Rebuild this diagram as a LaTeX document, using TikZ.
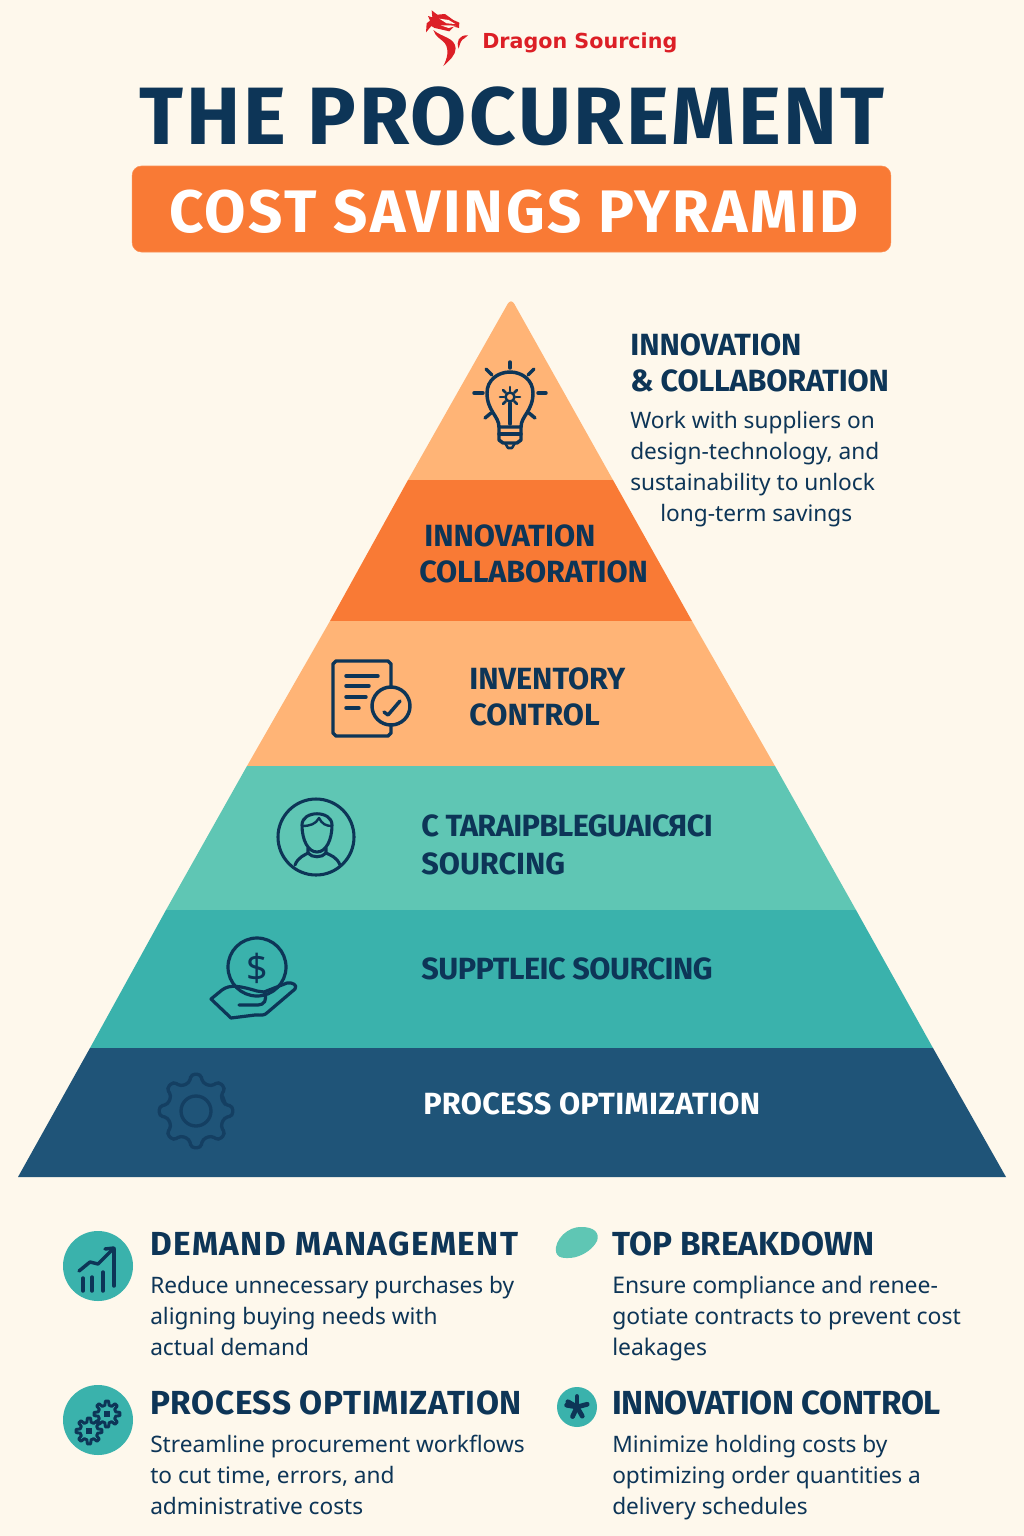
\documentclass[tikz,border=0pt]{standalone}
\usepackage{fontspec}
\setmainfont{Noto Sans}
\newfontfamily\headfont{Fira Sans}
\usetikzlibrary{positioning}

\definecolor{pagebg}{HTML}{FEF8EC}
\definecolor{navy}{HTML}{0D3557}
\definecolor{peach}{HTML}{FFB476}
\definecolor{burnt}{HTML}{F97A35}
\definecolor{mint}{HTML}{5FC6B4}
\definecolor{teal}{HTML}{3AB2AC}
\definecolor{deepblue}{HTML}{1F5478}
\definecolor{gearblue}{HTML}{143F62}
\definecolor{brandred}{HTML}{DC1F26}

\newcommand{\track}[1]{\addfontfeature{LetterSpace=#1}}

\tikzset{
  label/.style={inner sep=0pt,anchor=base west,text=navy,font=\headfont\bfseries\fontsize{23}{27}\selectfont,align=left},
  heading/.style={label,font=\headfont\bfseries\fontsize{25}{29}\selectfont},
  para/.style={inner sep=0pt,anchor=north west,text=navy,align=left,font=\fontsize{17}{23.25}\selectfont},
  icon/.style={draw=navy,line width=2.6pt,line cap=round,line join=round},
  badge/.style={circle,fill=teal,inner sep=0pt},
}

% gear outline: centre, root radius, tip radius, number of teeth
\newcommand{\gearoutline}[5][]{%
  \pgfmathsetmacro{\gstep}{360/#5}
  \draw[#1,shift={(#2)}] (-0.3*\gstep:#3)
    \foreach \k in {1,...,#5} {
      -- ({(\k-1)*\gstep-0.16*\gstep}:#4) -- ({(\k-1)*\gstep+0.16*\gstep}:#4)
      -- ({(\k-1)*\gstep+0.3*\gstep}:#3) -- ({\k*\gstep-0.3*\gstep}:#3)
    } -- cycle;
}

\begin{document}
\begin{tikzpicture}[x=0.75pt,y=-0.75pt]
\useasboundingbox (0,0) rectangle (1024,1536);
\fill[pagebg] (0,0) rectangle (1024,1536);

% logo
\begin{scope}[shift={(400,0)},x=0.25pt,y=-0.25pt]
\fill[brandred] (78,97) -- (80,70) -- (90,62) -- (84,48) -- (97,52) -- (95,31) -- (112,44) -- (135,42) -- (160,60) -- (178,68) -- (177,84)
  -- (162,80) -- (148,94) -- (122,88) -- (104,84) -- (94,78) -- cycle;
\fill[brandred] (100,90) .. controls (125,112) and (165,112) .. (167,145)
  .. controls (167,165) and (150,180) .. (130,198) .. controls (142,175) and (148,150) .. (135,130)
  .. controls (125,118) and (105,110) .. (100,90) -- cycle;
\fill[brandred] (176,146) .. controls (168,125) and (176,104) .. (204,106) -- (192,116) .. controls (184,118) and (180,130) .. (176,146) -- cycle;
\fill[pagebg] (118,56) -- (146,60) -- (166,72) -- (140,70) -- cycle;
\fill[pagebg] (122,76) -- (150,76) -- (168,78) -- (146,84) -- cycle;
\end{scope}
\node (brand) [inner sep=0pt,anchor=base west,text=brandred,font=\setmainfont{DejaVu Sans}\bfseries\fontsize{15.5}{18}\selectfont] at (482,48) {Dragon Sourcing};

% title
\node (maintitle) [inner sep=0pt,anchor=base,text=navy,font=\headfont\bfseries\fontsize{61}{70}\selectfont\track{3.2}] at (512,144) {THE PROCUREMENT};
\node (banner) [fill=burnt,draw=burnt!85!white,rounded corners=7pt,minimum width=569pt,minimum height=64.5pt,inner sep=0pt] at (511.5,209) {};
\node (bannertext) [inner sep=0pt,anchor=base,text=white,font=\headfont\bfseries\fontsize{45}{52}\selectfont\track{4.2}] at (514,232) {COST SAVINGS PYRAMID};

% pyramid tiers
\fill[peach] (408,480) [rounded corners=5pt] -- (511,298) [sharp corners] -- (613,480) -- cycle;
\fill[burnt] (408,480) -- (613,480) -- (692,621) -- (330,621) -- cycle;
\fill[peach] (330,621) -- (692,621) -- (775,766) -- (247,766) -- cycle;
\fill[mint] (247,766) -- (775,766) -- (856,910) -- (166,910) -- cycle;
\fill[teal] (166,910) -- (856,910) -- (933,1048) -- (90,1048) -- cycle;
\fill[deepblue] (90,1048) -- (933,1048) -- (1006,1177) -- (18,1177) -- cycle;

% tier labels
\node (tierfive) [label] at (424,546) {INNOVATION};
\node (tierfiveb) [label,font=\headfont\bfseries\fontsize{23}{27}\selectfont\track{-0.5}] at (419,582) {COLLABORATION};
\node (tierfour) [label] at (469,689) {INVENTORY};
\node (tierfourb) [label] at (469,725) {CONTROL};
\node (tierthree) [label,font=\headfont\bfseries\fontsize{23}{27}\selectfont\track{-2}] at (421,836) {C TARAIPBLEGUAICЯCI};
\node (tierthreeb) [label] at (421,874) {SOURCING};
\node (tiertwo) [label,font=\headfont\bfseries\fontsize{23}{27}\selectfont\track{-1.7}] at (421,979) {SUPPTLEIC SOURCING};
\node (tierone) [label,text=white,font=\headfont\bfseries\fontsize{23}{27}\selectfont\track{1}] at (423,1114) {PROCESS OPTIMIZATION};

% side text at the top
\node (sidehead) [label] at (630,355) {INNOVATION};
\node (sideheadb) [label,font=\headfont\bfseries\fontsize{23}{27}\selectfont\track{-0.6}] at (630,391) {\& COLLABORATION};
\node (sidetext) [para] at (630,411) {Work with suppliers on\\design-technology, and\\sustainability to unlock\\\hspace{22.5pt}long-term savings};

% bulb
\draw[icon] (510,362) -- (510,368);
\draw[icon] (474,393) -- (483,393);
\draw[icon] (538,393) -- (546,393);
\draw[icon] (486,369) -- (492,375);
\draw[icon] (534,369) -- (528,375);
\draw[icon] (485,418) -- (491,413);
\draw[icon] (535,418) -- (529,413);
\draw[icon] (499,427) .. controls (499,416) and (487,411) .. (487,393)
  .. controls (487,380) and (498,372) .. (510,372)
  .. controls (522,372) and (533,380) .. (533,393)
  .. controls (533,411) and (521,416) .. (521,427) -- cycle;
\draw[icon] (499,427) -- (499,440) -- (503,443) -- (517,443) -- (521,440) -- (521,427);
\draw[icon] (499,434) -- (521,434);
\draw[icon,line width=1.9pt] (505,443) -- (508,448) -- (512,448) -- (515,443);
\draw[icon] (510,403) -- (510,424);
\draw[icon,line width=1.9pt] (510,397) circle (4.5);
\foreach \spoke in {0,45,...,315} {\draw[icon,line width=1.9pt,shift={(510,397)}] (\spoke:6) -- (\spoke:10);}

% document icon
\draw[icon] (336,661) -- (388,661) -- (391,664) -- (391,733) -- (388,736) -- (336,736) -- (333,733) -- (333,664) -- cycle;
\draw[icon] (346,676) -- (378,676);
\draw[icon] (346,686) -- (369,686);
\draw[icon] (346,697) -- (366,697);
\draw[icon] (346,708) -- (359,708);
\draw[icon,fill=peach] (391,706) circle (19);
\draw[icon] (384,712) -- (388,715) -- (400,701);

% person icon
\draw[icon,line width=2.3pt] (316,837) circle (38);
\draw[icon,line width=2.3pt] (302,825) .. controls (302,810) and (332,810) .. (332,825)
  .. controls (332,840) and (326,852) .. (317,852) .. controls (308,852) and (302,840) .. (302,825) -- cycle;
\draw[icon,line width=1.8pt] (302,826) .. controls (310,826) and (316,824) .. (319,818) .. controls (322,824) and (326,826) .. (332,826);
\draw[icon,line width=2.3pt] (295,865) .. controls (298,857) and (305,855) .. (308,853) -- (308,848);
\draw[icon,line width=2.3pt] (340,865) .. controls (337,857) and (330,855) .. (326,853) -- (326,848);
\draw[icon,line width=2.3pt] (308,853) .. controls (312,858) and (322,858) .. (326,853);

% hand with coin
\draw[icon,line width=2.4pt] (257,967) circle (29);
\node (dollar) [inner sep=0pt,text=navy,font=\fontsize{28}{30}\selectfont] at (257,968) {\$};
\draw[icon,line width=2.4pt] (211,999) -- (222,990) .. controls (230,984) and (240,986) .. (257,991)
  -- (264,992) -- (287,983) .. controls (292,982) and (298,985) .. (295,989)
  -- (268,1012) .. controls (264,1016) and (262,1015) .. (255,1015) -- (231,1018) -- cycle;
\draw[icon,line width=2.4pt] (264,992) .. controls (268,1000) and (264,1005) .. (258,1005) -- (239,1005);

% gear in the base
\gearoutline[draw=gearblue,line width=2.5pt,rounded corners=2.5pt]{196,1111}{29}{37}{8}
\draw[gearblue,line width=2.5pt] (196,1111) circle (15);

% bottom headings and text
\node (itemone) [heading,font=\headfont\bfseries\fontsize{25}{29}\selectfont\track{4.2}] at (150,1255) {DEMAND MANAGEMENT};
\node (itemonetext) [para] at (150,1276) {Reduce unnecessary purchases by\\aligning buying needs with\\actual demand};
\node (itemtwo) [heading] at (612,1255) {TOP BREAKDOWN};
\node (itemtwotext) [para,font=\fontsize{17.2}{23.25}\selectfont] at (612,1276) {Ensure compliance and renee-\\gotiate contracts to prevent cost\\leakages};
\node (itemthree) [heading,font=\headfont\bfseries\fontsize{25}{29}\selectfont\track{1.9}] at (150,1414) {PROCESS OPTIMIZATION};
\node (itemthreetext) [para] at (150,1435) {Streamline procurement workflows\\to cut time, errors, and\\administrative costs};
\node (itemfour) [heading,font=\headfont\bfseries\fontsize{25}{29}\selectfont\track{-1.4}] at (612,1414) {INNOVATION CONTROL};
\node (itemfourtext) [para] at (612,1435) {Minimize holding costs by\\optimizing order quantities a\\delivery schedules};

% bottom icons
\node (chartbadge) [badge,minimum size=52.5pt] at (98,1266) {};
\draw[icon] (83,1278) -- (83,1291);
\draw[icon] (92,1277) -- (92,1291);
\draw[icon] (103,1272) -- (103,1291);
\draw[icon] (114,1249) -- (114,1286);
\draw[icon] (79,1271) -- (90,1262) -- (98,1264) -- (112,1250);
\draw[icon] (105,1249) -- (114,1248);

\node (gearbadge) [badge,minimum size=52.5pt] at (98,1420) {};
\gearoutline[icon,line width=2.2pt]{89,1431}{9}{13}{8}
\gearoutline[icon,line width=2.2pt]{107,1414}{9}{13}{8}
\fill[navy] (86,1428) rectangle (92,1434);
\fill[navy] (104,1411) rectangle (110,1417);

\fill[mint] (556,1252) .. controls (554,1240) and (568,1226) .. (582,1227)
  .. controls (594,1227) and (600,1233) .. (597,1241)
  .. controls (592,1251) and (578,1259) .. (566,1258)
  .. controls (560,1258) and (557,1256) .. (556,1252) -- cycle;

\node (starbadge) [badge,minimum size=30pt] at (577,1407) {};
\foreach \spoke in {-90,-15,60,115,190,-150} {\draw[navy,line width=3.6pt,line cap=round,shift={(577,1407)}] (0,0) -- (\spoke:10.5);}
\end{tikzpicture}
\end{document}
